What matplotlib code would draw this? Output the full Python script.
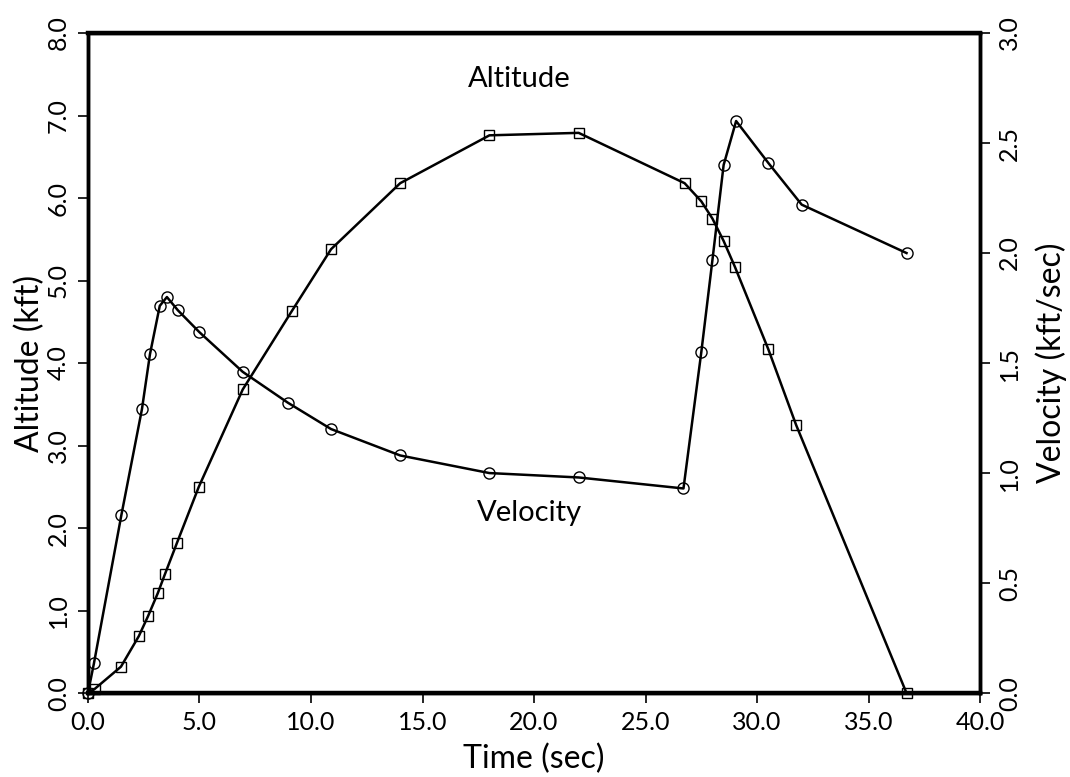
import matplotlib
matplotlib.use("Agg")
import matplotlib.pyplot as plt
import numpy as np

plt.rcParams["font.family"] = ["Lato", "DejaVu Sans"]

# altitude profile (kft) vs time (sec)
alt_t = [0.0, 0.3, 1.48, 2.28, 2.69, 3.13, 3.45, 3.99, 4.97, 6.94, 9.14, 10.9,
         14.0, 18.0, 22.0, 26.75, 27.5, 28.0, 28.5, 29.0, 30.5, 31.75, 36.7]
alt = [0.0, 0.05, 0.32, 0.69, 0.93, 1.21, 1.44, 1.82, 2.50, 3.68, 4.63, 5.38,
       6.18, 6.76, 6.79, 6.18, 5.96, 5.75, 5.48, 5.17, 4.17, 3.25, 0.0]

# velocity profile (kft/sec) vs time (sec)
vel_t = [0.0, 0.27, 1.5, 2.42, 2.78, 3.22, 3.54, 4.03, 5.0, 6.94, 8.96, 10.9,
         14.0, 18.0, 22.0, 26.7, 27.5, 28.0, 28.5, 29.06, 30.5, 32.0, 36.7]
vel = [0.0, 0.136, 0.81, 1.29, 1.54, 1.76, 1.80, 1.74, 1.64, 1.46, 1.32, 1.20,
       1.08, 1.00, 0.98, 0.93, 1.55, 1.97, 2.40, 2.60, 2.41, 2.22, 2.00]

xticks = np.arange(0, 40.1, 5)
alt_ticks = np.arange(0, 8.1, 1)
vel_ticks = np.arange(0, 3.01, 0.5)

fig = plt.figure(figsize=(10.7, 7.77), dpi=100)
ax = fig.add_axes([0.0822, 0.108, 0.8338, 0.8495])
ax2 = ax.twinx()

ax.plot(alt_t, alt, "-", color="black", lw=1.8, marker="s", ms=7,
        mfc="none", mec="black", mew=1.0, clip_on=False, zorder=3)
ax2.plot(vel_t, vel, "-", color="black", lw=1.8, marker="o", ms=8,
         mfc="none", mec="black", mew=1.0, clip_on=False, zorder=3)

ax.set_xlim(0, 40)
ax.set_ylim(0, 8)
ax2.set_ylim(0, 3)
ax.set_xticks(xticks)
ax.set_xticklabels([f"{v:.1f}" for v in xticks])
ax.set_yticks(alt_ticks)
ax.set_yticklabels([f"{v:.1f}" for v in alt_ticks], rotation=90, va="center")
ax2.set_yticks(vel_ticks)
ax2.set_yticklabels([f"{v:.1f}" for v in vel_ticks], rotation=90, va="center")

for a in (ax, ax2):
    a.tick_params(direction="out", length=7, width=1.2, labelsize=18, pad=6)
    for s in a.spines.values():
        s.set_linewidth(2.5)
ax.spines["top"].set_linewidth(3.2)
ax.spines["bottom"].set_linewidth(3.2)

ax.set_xlabel("Time (sec)", fontsize=23, labelpad=7)
ax.set_ylabel("Altitude (kft)", fontsize=23, labelpad=1)
ax2.set_ylabel("Velocity (kft/sec)", fontsize=23, labelpad=10)

ax.text(19.35, 7.44, "Altitude", fontsize=21, ha="center", va="center")
ax.text(19.8, 2.18, "Velocity", fontsize=21, ha="center", va="center")

fig.savefig("out.png", dpi=100)
